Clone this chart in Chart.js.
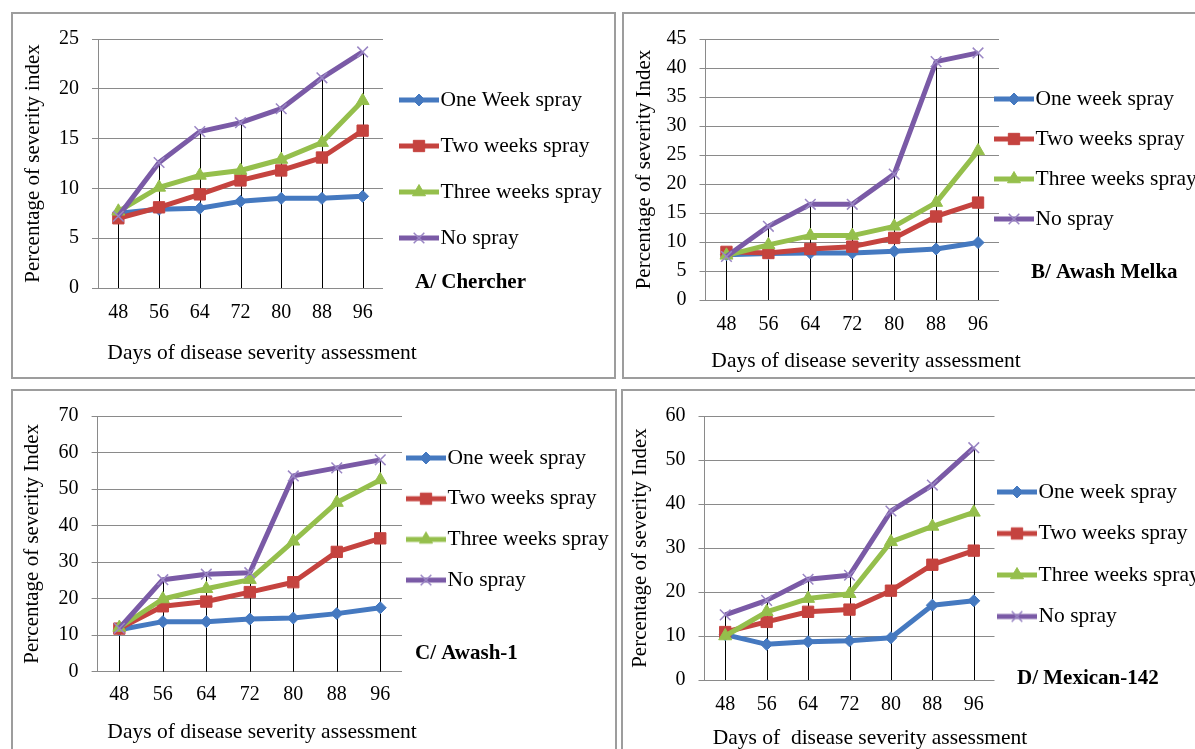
<!DOCTYPE html>
<html>
<head>
<meta charset="utf-8">
<script src="https://cdn.jsdelivr.net/npm/chart.js@4/dist/chart.umd.min.js"></script>
<style>
  html, body { margin: 0; padding: 0; background: #fff; width: 1195px; height: 749px; overflow: hidden; }
  .panel { position: absolute; box-sizing: border-box; border: 2px solid #9d9d9d; }
  canvas { position: absolute; }
</style>
</head>
<body>
<script>
// Days after planting when severity was scored (x categories)
const days = ["48", "56", "64", "72", "80", "88", "96"];

const namesA = ["One Week spray", "Two weeks spray", "Three weeks spray", "No spray"];
const names = ["One week spray", "Two weeks spray", "Three weeks spray", "No spray"];

// A/ Chercher
const chercherOne = [7.5, 7.9, 8.0, 8.7, 9.0, 9.0, 9.2];
const chercherTwo = [7.0, 8.1, 9.4, 10.8, 11.8, 13.1, 15.8];
const chercherThree = [7.7, 10.1, 11.3, 11.8, 12.9, 14.6, 18.8];
const chercherNone = [7.2, 12.6, 15.7, 16.6, 18.0, 21.1, 23.7];

// B/ Awash Melka
const melkaOne = [7.8, 8.0, 8.1, 8.1, 8.4, 8.8, 9.9];
const melkaTwo = [8.3, 8.1, 8.8, 9.2, 10.7, 14.4, 16.8];
const melkaThree = [7.7, 9.5, 11.1, 11.1, 12.7, 16.8, 25.7];
const melkaNone = [7.5, 12.7, 16.5, 16.5, 21.7, 41.1, 42.6];

// C/ Awash-1
const awashOne = [11.5, 13.7, 13.7, 14.4, 14.7, 15.9, 17.5];
const awashTwo = [11.8, 17.9, 19.2, 21.8, 24.5, 32.8, 36.5];
const awashThree = [12.1, 19.9, 22.7, 25.2, 35.7, 46.3, 52.5];
const awashNone = [11.9, 25.2, 26.7, 27.1, 53.6, 55.8, 58.0];

// D/ Mexican-142
const mexicanOne = [10.3, 8.1, 8.7, 8.9, 9.6, 17.0, 18.0];
const mexicanTwo = [10.9, 13.2, 15.5, 16.0, 20.3, 26.2, 29.4];
const mexicanThree = [10.0, 15.5, 18.5, 19.6, 31.4, 34.9, 38.1];
const mexicanNone = [14.8, 18.1, 22.9, 23.8, 38.4, 44.3, 52.8];

const FONT = "'Liberation Serif', 'Times New Roman', serif";

// Excel-like series look
const seriesStyle = [
  { color: "#4579c0", marker: "rectRot", radius: 6, edge: "#4579c0", edgeWidth: 1 },
  { color: "#c5433f", marker: "rect", radius: 8, edge: "#c5433f", edgeWidth: 1 },
  { color: "#95bf4c", marker: "triangle", radius: 7.5, edge: "#95bf4c", edgeWidth: 1 },
  { color: "#7a5aa6", marker: "crossRot", radius: 7.5, edge: "#9a86c4", edgeWidth: 1.5 },
];

// page coordinates for each panel (box = outer border rectangle)
const panels = [
  {
    box: [11, 12, 605, 367], plot: { l: 98, r: 383, t: 31, b: 288 },
    yMax: 25, yStep: 5, seriesNames: namesA,
    values: [chercherOne, chercherTwo, chercherThree, chercherNone],
    yTitle: "Percentage of severity index", yTitleX: 33,
    xTitle: "Days of disease severity assessment", xTitleAt: [262, 353], xTicksY: 312.5,
    legendAt: [440, 100], legendGap: 46, label: "A/ Chercher", labelAt: [415, 283],
  },
  {
    box: [622, 12, 600, 367], plot: { l: 705.5, r: 999, t: 31.7, b: 300 },
    yMax: 45, yStep: 5, seriesNames: names,
    values: [melkaOne, melkaTwo, melkaThree, melkaNone],
    yTitle: "Percentage of severity Index", yTitleX: 644,
    xTitle: "Days of disease severity assessment", xTitleAt: [866, 361], xTicksY: 325,
    legendAt: [1035, 99], legendGap: 40, label: "B/ Awash Melka", labelAt: [1031, 273],
  },
  {
    box: [11, 389, 606, 372], plot: { l: 97.6, r: 402, t: 407.3, b: 671.7 },
    yMax: 70, yStep: 10, seriesNames: names,
    values: [awashOne, awashTwo, awashThree, awashNone],
    yTitle: "Percentage of severity Index", yTitleX: 32,
    xTitle: "Days of disease severity assessment", xTitleAt: [262, 732], xTicksY: 695,
    legendAt: [447, 458], legendGap: 40.7, label: "C/ Awash-1", labelAt: [415, 654],
  },
  {
    box: [621, 389, 601, 372], plot: { l: 704.5, r: 994.5, t: 409.3, b: 680 },
    yMax: 60, yStep: 10, seriesNames: names,
    values: [mexicanOne, mexicanTwo, mexicanThree, mexicanNone],
    yTitle: "Percentage of severity Index", yTitleX: 640,
    xTitle: "Days of  disease severity assessment", xTitleAt: [870, 738], xTicksY: 705,
    legendAt: [1038, 492], legendGap: 41.5, label: "D/ Mexican-142", labelAt: [1017, 679],
  },
];

// little line+marker picture used as the legend symbol
function legendSwatch(st) {
  const c = document.createElement("canvas");
  c.width = 40;
  c.height = 18;
  const g = c.getContext("2d");
  g.strokeStyle = st.color;
  g.lineWidth = 5;
  g.beginPath();
  g.moveTo(0, 9);
  g.lineTo(40, 9);
  g.stroke();
  g.fillStyle = st.color;
  g.strokeStyle = st.edge;
  g.lineWidth = st.edgeWidth;
  Chart.helpers.drawPoint(g, { pointStyle: st.marker, radius: st.radius, borderWidth: st.edgeWidth, rotation: 0 }, 20, 9);
  return c;
}
const swatches = seriesStyle.map(legendSwatch);

// drop lines, axis title, panel caption, legend placement
const panelDecor = {
  id: "panelDecor",
  afterLayout(chart, args, o) {
    // legend was laid out 1px wide so the plot keeps its size; move and widen it here
    const lg = chart.legend;
    const pad = lg.options.labels.padding;
    const h = lg.height;
    lg.left = o.legendX - 31.75 - pad;
    lg.width = chart.width - lg.left;
    lg.right = chart.width;
    lg.top = o.legendY - 10.75 - pad;
    lg.bottom = Math.min(chart.height, lg.top + h);
    lg.height = lg.bottom - lg.top;
  },
  beforeDatasetsDraw(chart) {
    const { ctx, scales } = chart;
    const n = chart.data.labels.length;
    ctx.save();
    ctx.strokeStyle = "#000";
    ctx.lineWidth = 1;
    for (let i = 0; i < n; i++) {
      const top = Math.max(...chart.data.datasets.map((d) => d.data[i]));
      const x = Math.round(scales.x.getPixelForValue(i)) + 0.5;
      ctx.beginPath();
      ctx.moveTo(x, scales.y.getPixelForValue(top));
      ctx.lineTo(x, scales.y.getPixelForValue(0));
      ctx.stroke();
    }
    ctx.restore();
  },
  afterDraw(chart, args, o) {
    const { ctx } = chart;
    ctx.save();
    ctx.fillStyle = "#000";
    ctx.textBaseline = "middle";
    ctx.textAlign = "center";
    ctx.font = "21.5px " + FONT;
    ctx.fillText(o.xTitle, o.xTitleX, o.xTitleY);
    ctx.textAlign = "left";
    ctx.font = "bold 21px " + FONT;
    ctx.fillText(o.label, o.labelX, o.labelY);
    ctx.restore();
  },
};

function makeChart(p) {
  const [bx, by, bw, bh] = p.box;
  const box = document.createElement("div");
  box.className = "panel";
  box.style.cssText = `left:${bx}px;top:${by}px;width:${bw}px;height:${bh}px`;
  document.body.appendChild(box);

  const cx = bx + 2, cy = by + 2, cw = bw - 4, ch = bh - 4;
  const canvas = document.createElement("canvas");
  canvas.width = cw;
  canvas.height = ch;
  canvas.style.left = cx + "px";
  canvas.style.top = cy + "px";
  document.body.appendChild(canvas);

  const area = { l: p.plot.l - cx, r: p.plot.r - cx, t: p.plot.t - cy, b: p.plot.b - cy };

  return new Chart(canvas, {
    type: "line",
    data: {
      labels: days,
      datasets: p.values.map((v, i) => ({
        label: p.seriesNames[i],
        data: v,
        order: 3 - i, // later series drawn on top, like Excel
        borderColor: seriesStyle[i].color,
        backgroundColor: seriesStyle[i].color,
        borderWidth: 5,
        borderJoinStyle: "round",
        tension: 0,
        pointStyle: seriesStyle[i].marker,
        pointRadius: seriesStyle[i].radius,
        pointBackgroundColor: seriesStyle[i].color,
        pointBorderColor: seriesStyle[i].edge,
        pointBorderWidth: seriesStyle[i].edgeWidth,
      })),
    },
    options: {
      responsive: false,
      animation: false,
      layout: { padding: { left: 0, top: area.t, right: cw - area.r - 1, bottom: 0 } },
      scales: {
        x: {
          offset: true,
          grid: { display: false, drawTicks: false },
          border: { display: false },
          ticks: { color: "#000", padding: p.xTicksY - p.plot.b - 12, font: { family: FONT, size: 20 } },
          afterFit: (s) => { s.height = ch - area.b; },
        },
        y: {
          min: 0,
          max: p.yMax,
          ticks: { stepSize: p.yStep, color: "#000", padding: 13, font: { family: FONT, size: 20 } },
          grid: { color: "#8a8a8a", lineWidth: 1, tickLength: 6 },
          border: { display: true, color: "#8a8a8a" },
          title: {
            display: true,
            text: p.yTitle,
            color: "#000",
            font: { family: FONT, size: 21 },
            padding: { top: p.yTitleX - cx - 12.6, bottom: 0 },
          },
          afterFit: (s) => { s.width = area.l; },
        },
      },
      plugins: {
        tooltip: { enabled: false },
        legend: {
          position: "right",
          align: "start",
          maxWidth: 1,
          labels: {
            usePointStyle: true,
            padding: p.legendGap - 21.5,
            color: "#000",
            font: { family: FONT, size: 21.5 },
            generateLabels(chart) {
              return Chart.defaults.plugins.legend.labels
                .generateLabels(chart)
                .sort((a, b) => a.datasetIndex - b.datasetIndex)
                .map((it) => ({ ...it, pointStyle: swatches[it.datasetIndex] }));
            },
          },
        },
        panelDecor: {
          legendX: p.legendAt[0] - cx,
          legendY: p.legendAt[1] - cy,
          xTitle: p.xTitle,
          xTitleX: p.xTitleAt[0] - cx,
          xTitleY: p.xTitleAt[1] - cy,
          label: p.label,
          labelX: p.labelAt[0] - cx,
          labelY: p.labelAt[1] - cy,
        },
      },
    },
    plugins: [panelDecor],
  });
}

panels.forEach(makeChart);
</script>
</body>
</html>
